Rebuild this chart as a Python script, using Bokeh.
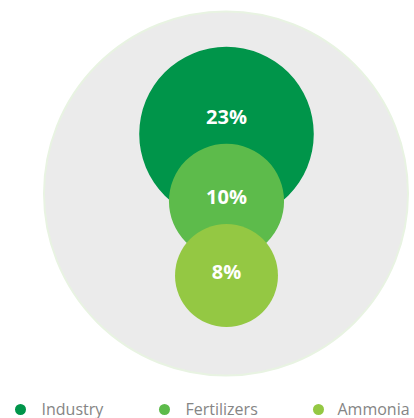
from bokeh.plotting import figure
from bokeh.models import Range1d
from bokeh.core.properties import value
from bokeh.embed import file_html
from bokeh.resources import INLINE
import math

# ---- data ----
categories = ["Industry", "Fertilizers", "Ammonia"]
values = [23, 10, 8]
total = 100
labels = ["23%", "10%", "8%"]
colors = ["#00954a", "#5dbb4b", "#94c843"]

# ---- layout (pixels; 1 data unit = 1 px) ----
W, H = 414, 418
k = 18.2  # px of radius per sqrt(percent)
cx = 226.0
total_c = (225.5, H - 193.0)
centers_y = [H - 133.5, H - 200.8, H - 275.0]
label_y = [H - 115.5, H - 195.5, H - 270.5]

p = figure(width=W, height=H, output_backend="svg", toolbar_location=None,
           x_range=Range1d(0, W), y_range=Range1d(0, H), min_border=0)
p.axis.visible = False
p.grid.visible = False
p.outline_line_color = None
p.background_fill_color = "white"
p.border_fill_color = "white"

# background 100% circle
p.circle(x=[total_c[0]], y=[total_c[1]], radius=[k * math.sqrt(total)],
         fill_color="#ebebeb", line_color="#e8f3e2", line_width=2)

for i, (c, v) in enumerate(zip(categories, values)):
    p.circle(x=[cx], y=[centers_y[i]], radius=[k * math.sqrt(v)],
             fill_color=colors[i], line_color=None)

p.text(x=[cx] * 3, y=label_y, text=labels, text_color="white",
       text_font=value("Open Sans"), text_font_style="bold",
       text_font_size="20px", text_align="center", text_baseline="middle")

# legend
leg_mx = [20, 164, 318]
leg_tx = [41, 185, 337]
p.scatter(x=leg_mx, y=[H - 409] * 3, size=11, marker="circle",
          fill_color=colors, line_color=None)
p.text(x=leg_tx, y=[H - 408] * 3, text=categories, text_color="#858585",
       text_font=value("Open Sans"), text_font_size="16px",
       text_align="left", text_baseline="middle")

open("out.html", "w").write(file_html(p, INLINE))
